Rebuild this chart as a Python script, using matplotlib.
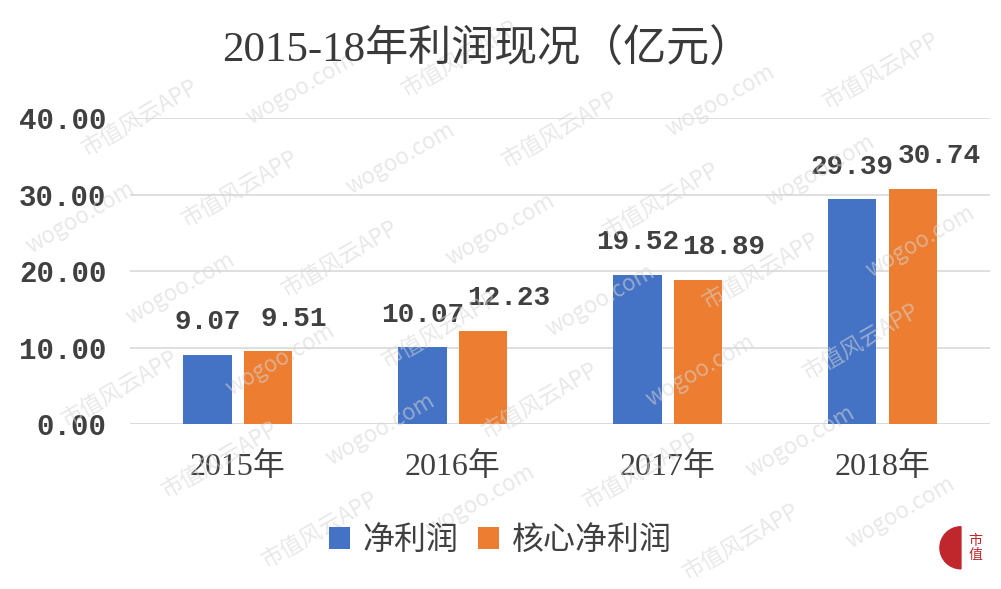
import numpy as np
import matplotlib.pyplot as plt
from matplotlib.patches import Wedge

plt.rcParams['font.family'] = ['Noto Sans CJK SC', 'DejaVu Sans']

# data
years = ["2015年", "2016年", "2017年", "2018年"]
net_profit = [9.07, 10.07, 19.52, 29.39]
core_profit = [9.51, 12.23, 18.89, 30.74]
series_names = ["净利润", "核心净利润"]
yticks = [0, 10, 20, 30, 40]

BLUE = "#4472C4"
ORANGE = "#ED7D31"
TEXT = "#404040"
NUM_FONT = dict(family='Liberation Mono', weight='bold')
SERIF_CJK = ['Liberation Serif', 'Noto Sans CJK SC']

fig = plt.figure(figsize=(10.01, 5.89), dpi=100)

# faint watermark behind everything
for i in range(-2, 9):
    for j in range(-1, 7):
        xs = i * 0.16 + j * 0.06
        ys = j * 0.17 + i * 0.05
        if not (0.07 < xs < 0.93 and 0.05 < ys < 0.95):
            continue
        txt = "市值风云APP" if (i + j) % 2 == 0 else "wogoo.com"
        fig.text(xs, ys, txt, rotation=30, fontsize=16, color='#d6d6d6', alpha=0.55,
                 ha='center', va='center', zorder=0)

ax = fig.add_axes([0.13, 0.28, 0.859, 0.5195])
ax.patch.set_alpha(0)

x = np.arange(len(years))
w = 0.225
gap = 0.028
b1 = ax.bar(x - w / 2 - gap, net_profit, w, color=BLUE, label=series_names[0], zorder=3)
b2 = ax.bar(x + w / 2 + gap, core_profit, w, color=ORANGE, label=series_names[1], zorder=3)

# value labels (orange ones nudged right, as in the source)
for bars, vals, dx in ((b1, net_profit, 0), (b2, core_profit, 19)):
    for r, v in zip(bars, vals):
        ax.annotate(f"{v:.2f}", (r.get_x() + r.get_width() / 2, v), xytext=(dx, 14),
                    textcoords='offset points', ha='center', va='bottom',
                    fontsize=20, color=TEXT, zorder=4, **NUM_FONT)

ax.set_xlim(-0.5, len(years) - 0.5)
ax.set_ylim(0, 40)
ax.set_yticks(yticks)
ax.set_yticklabels([f"{t:.2f}" for t in yticks], fontsize=21, color=TEXT, **NUM_FONT)
ax.set_xticks(x)
ax.set_xticklabels(years, fontsize=23, color=TEXT, family=SERIF_CJK)
ax.tick_params(length=0, axis='y', pad=17)
ax.tick_params(length=0, axis='x', pad=20)
ax.grid(axis='y', color='#d9d9d9', lw=1.2, zorder=0)
for s in ax.spines.values():
    s.set_visible(False)
ax.axhline(0, color='#d9d9d9', lw=1.2, zorder=2)

fig.text(0.487, 0.915, "2015-18年利润现况（亿元）", ha='center', va='center',
         fontsize=31, color='#3a3a3a', family=SERIF_CJK)

fig.legend(handles=[b1, b2], labels=series_names, loc='center', bbox_to_anchor=(0.5, 0.083),
           ncol=2, frameon=False, fontsize=23, handlelength=0.65, handleheight=0.65,
           handletextpad=0.4, columnspacing=0.6, labelcolor=TEXT)

# logo in the corner
lax = fig.add_axes([0.935, 0.02, 0.06, 0.1])
lax.set_xlim(0, 1.2)
lax.set_ylim(0, 1)
lax.set_aspect('equal')
lax.axis('off')
lax.add_patch(Wedge((0.5, 0.5), 0.42, 90, 270, color='#c0272d'))
lax.text(0.78, 0.5, "市\n值", fontsize=10, color='#c0272d', ha='center', va='center',
         linespacing=1.0)

fig.savefig("out.png", dpi=100, facecolor='white')
